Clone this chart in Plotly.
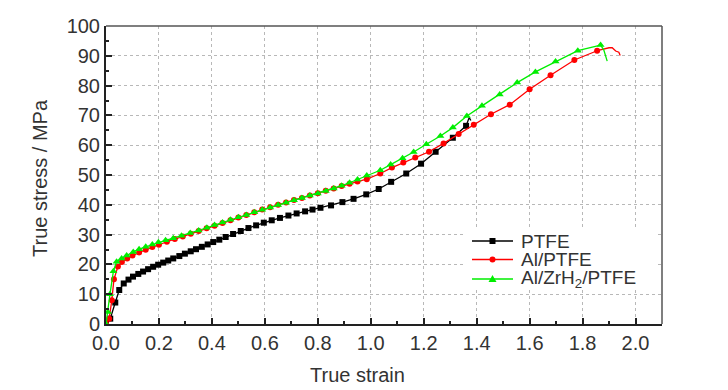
import plotly.graph_objects as go

# ---- data ----
ptfe_strain = [0.000, 0.016, 0.035, 0.050, 0.067, 0.085, 0.102, 0.122, 0.140, 0.159, 0.178, 0.197,
               0.216, 0.235, 0.254, 0.277, 0.298, 0.320, 0.340, 0.362, 0.384, 0.405, 0.428, 0.452,
               0.480, 0.509, 0.538, 0.567, 0.596, 0.626, 0.657, 0.689, 0.720, 0.752, 0.780, 0.810,
               0.850, 0.893, 0.935, 0.983, 1.030, 1.077, 1.134, 1.190, 1.245, 1.310, 1.360]
ptfe_stress = [0.0, 1.8, 7.2, 11.4, 13.6, 14.9, 15.9, 16.8, 17.6, 18.4, 19.2, 19.9,
               20.6, 21.3, 22.0, 22.8, 23.6, 24.4, 25.1, 25.9, 26.7, 27.5, 28.3, 29.2,
               30.2, 31.2, 32.2, 33.1, 34.0, 34.8, 35.6, 36.4, 37.1, 37.8, 38.4, 39.0,
               39.8, 40.9, 42.0, 43.5, 45.3, 47.7, 50.5, 53.8, 57.8, 62.5, 66.5]
ptfe_tail_strain = [1.360, 1.372, 1.378]
ptfe_tail_stress = [66.5, 69.3, 68.3]

al_strain = [0.000, 0.012, 0.022, 0.030, 0.045, 0.060, 0.080, 0.100, 0.125, 0.150, 0.175, 0.200,
             0.230, 0.260, 0.290, 0.320, 0.350, 0.380, 0.410, 0.440, 0.470, 0.500, 0.530, 0.560,
             0.590, 0.620, 0.650, 0.680, 0.710, 0.740, 0.770, 0.800, 0.830, 0.860, 0.890, 0.920,
             0.950, 0.985, 1.036, 1.080, 1.123, 1.168, 1.220, 1.275, 1.332, 1.389, 1.454, 1.525,
             1.600, 1.679, 1.769, 1.855]
al_stress = [0.0, 1.8, 8.0, 15.0, 19.3, 20.8, 22.0, 23.0, 24.0, 24.9, 25.8, 26.6,
             27.6, 28.5, 29.4, 30.3, 31.2, 32.1, 33.0, 33.9, 34.8, 35.7, 36.6, 37.5,
             38.4, 39.2, 40.0, 40.8, 41.6, 42.3, 43.1, 43.9, 44.7, 45.5, 46.3, 47.1,
             47.8, 48.6, 50.5, 52.5, 54.2, 55.9, 57.8, 60.6, 63.8, 66.9, 70.4, 73.6,
             78.8, 83.5, 88.6, 91.7]
al_tail_strain = [1.855, 1.880, 1.900, 1.912, 1.925, 1.937, 1.942]
al_tail_stress = [91.7, 92.3, 92.7, 92.7, 91.6, 91.2, 90.1]

zr_strain = [0.000, 0.007, 0.015, 0.028, 0.040, 0.059, 0.078, 0.103, 0.125, 0.150, 0.175, 0.198,
             0.225, 0.254, 0.285, 0.318, 0.350, 0.381, 0.410, 0.440, 0.470, 0.500, 0.530, 0.560,
             0.590, 0.620, 0.650, 0.680, 0.710, 0.740, 0.770, 0.800, 0.830, 0.860, 0.890, 0.920,
             0.950, 0.985, 1.036, 1.075, 1.120, 1.162, 1.210, 1.263, 1.310, 1.363, 1.420, 1.487,
             1.553, 1.622, 1.698, 1.782, 1.868]
zr_stress = [0.0, 4.0, 10.0, 17.7, 20.9, 22.0, 23.0, 24.2, 25.1, 25.9, 26.7, 27.4,
             28.1, 28.8, 29.6, 30.5, 31.4, 32.3, 33.2, 34.1, 35.0, 35.8, 36.6, 37.5,
             38.3, 39.1, 39.9, 40.7, 41.5, 42.3, 43.1, 43.8, 44.6, 45.5, 46.4, 47.4,
             48.5, 49.8, 51.6, 53.5, 55.6, 57.7, 60.3, 63.1, 65.9, 69.8, 73.2, 77.0,
             81.0, 84.6, 88.1, 91.7, 93.6]
zr_tail_strain = [1.868, 1.880, 1.893]
zr_tail_stress = [93.6, 92.0, 88.2]

series_names = ["PTFE", "Al/PTFE", "Al/ZrH<sub>2</sub>/PTFE"]
series_colors = ["#000000", "#ff0000", "#00ee00"]
series_symbols = ["square", "circle", "triangle-up"]

x_ticks = [0.0, 0.2, 0.4, 0.6, 0.8, 1.0, 1.2, 1.4, 1.6, 1.8, 2.0]
y_ticks = [0, 10, 20, 30, 40, 50, 60, 70, 80, 90, 100]

FONT = "Liberation Sans, Arial, sans-serif"
TXT = "#333333"
W, H = 728, 390
ML, MR, MT, MB = 106, 66, 26, 66
PW, PH = W - ML - MR, H - MT - MB


def px(xp):
    return (xp - ML) / PW


def py(yp):
    return (H - MB - yp) / PH


fig = go.Figure()

data = [(ptfe_strain, ptfe_stress, ptfe_tail_strain, ptfe_tail_stress),
        (al_strain, al_stress, al_tail_strain, al_tail_stress),
        (zr_strain, zr_stress, zr_tail_strain, zr_tail_stress)]
sizes = [6, 6, 7]
for (xs, ys, xt, yt), name, col, sym, sz in zip(data, series_names, series_colors, series_symbols, sizes):
    fig.add_trace(go.Scatter(x=xs, y=ys, mode="lines+markers", name=name, legendgroup=name,
                             showlegend=False,
                             line=dict(color=col, width=1.3),
                             marker=dict(symbol=sym, size=sz, color=col)))
    fig.add_trace(go.Scatter(x=xt, y=yt, mode="lines", showlegend=False, legendgroup=name,
                             line=dict(color=col, width=1.3)))

axis_common = dict(
    showline=True, linecolor="#222222", linewidth=2, mirror=False,
    ticks="inside", ticklen=6, tickwidth=2, tickcolor="#222222",
    showgrid=True, gridcolor="#b8b8b8", griddash="dot", gridwidth=1,
    zeroline=False,
    tickfont=dict(family=FONT, size=20, color=TXT),
)

fig.update_xaxes(range=[0, 2.1], tickvals=x_ticks, ticktext=[f"{v:.1f}" for v in x_ticks],
                 minor=dict(dtick=0.1, ticks="inside", ticklen=3, tickwidth=2, tickcolor="#222222", showgrid=False),
                 **axis_common)
fig.update_yaxes(range=[0, 100], tickvals=y_ticks, ticktext=[str(v) for v in y_ticks],
                 minor=dict(dtick=5, ticks="inside", ticklen=3, tickwidth=2, tickcolor="#222222", showgrid=False),
                 **axis_common)

# top and right frame lines
fig.add_shape(type="line", xref="paper", yref="paper", x0=0, x1=1, y0=1, y1=1,
              line=dict(color="#555555", width=1.5))
fig.add_shape(type="line", xref="paper", yref="paper", x0=1, x1=1, y0=0, y1=1,
              line=dict(color="#555555", width=1.5))

# legend (drawn as a key box)
fig.add_shape(type="rect", xref="paper", yref="paper", x0=px(463), x1=px(657), y0=py(290), y1=py(229),
              fillcolor="white", line=dict(width=0), layer="above")
rows = [241, 259.5, 279]
for row, name, col, sym in zip(rows, series_names, series_colors, series_symbols):
    fig.add_shape(type="line", xref="paper", yref="paper", x0=px(472), x1=px(513), y0=py(row), y1=py(row),
                  line=dict(color=col, width=1.3), layer="above")
    cx = 492.5
    if sym == "square":
        fig.add_shape(type="rect", xref="paper", yref="paper", x0=px(cx - 3), x1=px(cx + 3),
                      y0=py(row + 3), y1=py(row - 3), fillcolor=col, line=dict(width=0), layer="above")
    elif sym == "circle":
        fig.add_shape(type="circle", xref="paper", yref="paper", x0=px(cx - 3), x1=px(cx + 3),
                      y0=py(row + 3), y1=py(row - 3), fillcolor=col, line=dict(width=0), layer="above")
    else:
        path = (f"M {px(cx - 4)} {py(row + 3)} L {px(cx + 4)} {py(row + 3)} "
                f"L {px(cx)} {py(row - 4)} Z")
        fig.add_shape(type="path", xref="paper", yref="paper", path=path,
                      fillcolor=col, line=dict(width=0), layer="above")
    fig.add_annotation(text=name, xref="paper", yref="paper", x=px(519), y=py(row),
                       xanchor="left", yanchor="middle", showarrow=False,
                       font=dict(family=FONT, size=19, color=TXT))

fig.add_annotation(text="True strain", xref="paper", yref="paper", x=px(357), y=py(375),
                   xanchor="center", yanchor="middle", showarrow=False,
                   font=dict(family=FONT, size=20, color=TXT))
fig.add_annotation(text="True stress / MPa", xref="paper", yref="paper", x=px(40), y=py(178),
                   xanchor="center", yanchor="middle", textangle=-90, showarrow=False,
                   font=dict(family=FONT, size=20, color=TXT))

fig.update_layout(
    width=W, height=H,
    margin=dict(l=ML, r=MR, t=MT, b=MB),
    plot_bgcolor="white", paper_bgcolor="white",
    showlegend=False,
)

fig.write_html("out.html", config={"displayModeBar": False},
               post_script="document.body.style.margin='0px';")
